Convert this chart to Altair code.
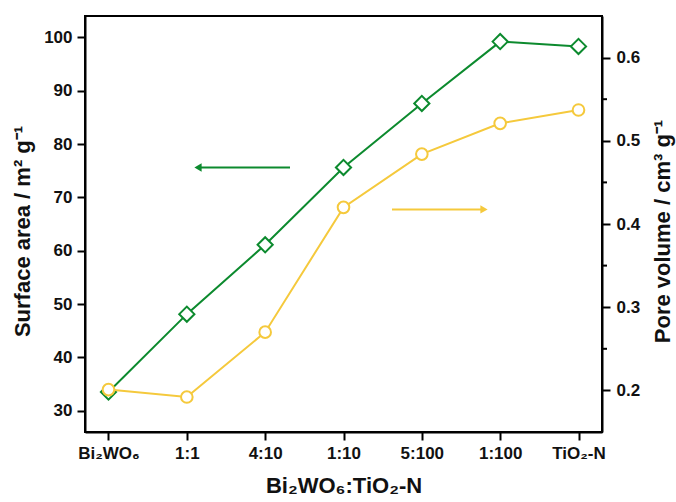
import altair as alt
import pandas as pd

categories = ["Bi₂WO₆", "1:1", "4:10", "1:10", "5:100", "1:100", "TiO₂-N"]
surface_area = [33.5, 48.1, 61.1, 75.6, 87.6, 99.2, 98.3]
pore_volume = [0.201, 0.192, 0.270, 0.420, 0.484, 0.521, 0.537]
left_ticks = [30, 40, 50, 60, 70, 80, 90, 100]
right_ticks = [0.2, 0.3, 0.4, 0.5, 0.6]
right_minor = [0.25, 0.35, 0.45, 0.55]

GREEN = "#0c8a2e"
YELLOW = "#f5c93c"
FONT = "Liberation Sans"

df = pd.DataFrame({"cat": categories, "sa": surface_area, "pv": pore_volume})

x = alt.X("cat:N", sort=categories,
          scale=alt.Scale(type="point", padding=0.3),
          axis=alt.Axis(title="Bi₂WO₆:TiO₂-N", labelAngle=0, tickSize=8,
                        labelPadding=5, titlePadding=14))

y_left = alt.Y("sa:Q", scale=alt.Scale(domain=[26, 104], nice=False, zero=False),
               axis=alt.Axis(title="Surface area / m² g⁻¹", values=left_ticks,
                             orient="left", tickSize=8, labelPadding=5,
                             titlePadding=9, titleY=215))
y_right = alt.Y("pv:Q", scale=alt.Scale(domain=[0.15, 0.65], nice=False, zero=False),
                axis=alt.Axis(title="Pore volume / cm³ g⁻¹", values=right_ticks,
                              format=".1f", orient="right", tickSize=8,
                              labelPadding=6, titlePadding=13, titleAngle=270,
                              titleBaseline="top", titleY=215))

base = alt.Chart(df)

green_line = base.mark_line(color=GREEN, strokeWidth=2).encode(x=x, y=y_left)
green_pts = base.mark_point(shape="diamond", size=230, filled=True, fill="white",
                            stroke=GREEN, strokeWidth=2, opacity=1).encode(x=x, y=y_left)

arrow_g = pd.DataFrame({"sa": [75.6]})
green_arrow = alt.Chart(arrow_g).mark_rule(color=GREEN, strokeWidth=2).encode(
    x=alt.value(205), x2=alt.value(115), y=alt.Y("sa:Q"))
green_head = alt.Chart(arrow_g).mark_point(shape="triangle-left", size=70, filled=True,
                                           color=GREEN, opacity=1).encode(
    x=alt.value(113), y=alt.Y("sa:Q"))

yellow_line = base.mark_line(color=YELLOW, strokeWidth=2).encode(x=x, y=y_right)
yellow_pts = base.mark_point(shape="circle", size=135, filled=True, fill="white",
                             stroke=YELLOW, strokeWidth=2, opacity=1).encode(x=x, y=y_right)

arrow_y = pd.DataFrame({"pv": [0.4175]})
yellow_arrow = alt.Chart(arrow_y).mark_rule(color=YELLOW, strokeWidth=2).encode(
    x=alt.value(307), x2=alt.value(397), y=alt.Y("pv:Q"))
yellow_head = alt.Chart(arrow_y).mark_point(shape="triangle-right", size=70, filled=True,
                                            color=YELLOW, opacity=1).encode(
    x=alt.value(399), y=alt.Y("pv:Q"))

minor = alt.Chart(pd.DataFrame({"pv": right_minor})).mark_rule(
    color="black", strokeWidth=2).encode(x=alt.value(517), x2=alt.value(522), y=alt.Y("pv:Q"))

left = alt.layer(green_line, green_arrow, green_head, green_pts)
right = alt.layer(yellow_line, yellow_arrow, yellow_head, minor, yellow_pts)

chart = alt.layer(left, right).resolve_scale(y="independent").properties(
    width=517, height=416,
    autosize=alt.AutoSizeParams(type="none"),
    padding={"left": 85, "top": 16, "right": 74, "bottom": 70},
).configure_view(stroke="black", strokeWidth=2).configure_axis(
    grid=False, domainColor="black", domainWidth=2, tickColor="black", tickWidth=2,
    labelFont=FONT, titleFont=FONT, labelFontSize=17, titleFontSize=22,
    labelFontWeight="bold", titleFontWeight="bold", labelColor="#111", titleColor="#111",
)

chart.save("out.html", embed_options={"renderer": "svg", "actions": False})
